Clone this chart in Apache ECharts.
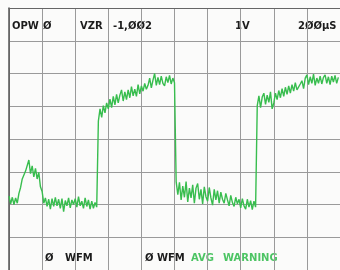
<!DOCTYPE html>
<html>
<head>
<meta charset="utf-8">
<script src="https://cdn.jsdelivr.net/npm/echarts@6/dist/echarts.min.js"></script>
<style>
  html, body { margin: 0; padding: 0; background: #fbfbfa; }
  #box { width: 340px; height: 270px; }
</style>
</head>
<body>
<div id="box"></div>
<script>
// scope trace, one sample every 0.05 div, volts in div (1V/div)
const sampleStep = 0.05;
const traceValues = [
  -1.74, -1.98, -1.78, -2.00, -1.80, -1.96, -1.66, -1.48, -1.22, -1.20,
  -0.98, -1.00, -0.64, -1.06, -0.82, -1.16, -0.90, -1.22, -1.02, -1.46,
  -1.60, -1.96, -1.80, -2.06, -1.84, -2.14, -1.82, -2.06, -1.78, -2.04,
  -1.84, -2.12, -1.82, -2.22, -1.88, -2.04, -1.80, -2.10, -1.86, -2.00,
  -1.82, -2.08, -1.76, -2.04, -1.90, -2.12, -1.80, -2.06, -1.86, -2.14,
  -1.90, -2.12, -1.94, -2.08, 0.55, 0.92, 0.66, 1.02, 0.80, 1.10,
  0.92, 1.22, 0.96, 1.30, 1.04, 1.36, 1.10, 1.34, 1.50, 1.16,
  1.44, 1.20, 1.50, 1.26, 1.60, 1.32, 1.52, 1.30, 1.66, 1.38,
  1.62, 1.46, 1.70, 1.52, 1.64, 1.86, 1.56, 1.80, 2.00, 1.64,
  1.88, 1.66, 1.92, 1.70, 1.62, 1.90, 1.72, 1.94, 1.68, 1.86,
  1.72, -1.30, -1.70, -1.32, -1.86, -1.44, -1.78, -1.30, -1.92, -1.50,
  -1.80, -1.40, -1.96, -1.50, -1.36, -1.84, -1.54, -1.98, -1.46, -1.76,
  -1.90, -1.48, -1.80, -2.02, -1.54, -1.86, -1.58, -1.96, -1.62, -1.84,
  -1.96, -1.66, -1.86, -2.04, -1.72, -1.94, -2.06, -1.78, -1.98, -1.84,
  -2.10, -1.82, -2.04, -2.14, -1.84, -2.08, -1.88, -2.16, -1.90, -2.08,
  1.02, 1.32, 0.96, 1.28, 1.40, 1.06, 1.34, 1.12, 1.44, 0.92,
  1.10, 1.40, 1.20, 1.48, 1.26, 1.54, 1.30, 1.58, 1.36, 1.62,
  1.40, 1.66, 1.46, 1.72, 1.50, 1.44, 1.68, 1.78, 1.54, 1.86,
  1.96, 1.66, 1.90, 1.70, 1.98, 1.64, 1.86, 1.70, 1.92, 1.68,
  1.88, 1.96, 1.70, 1.90, 1.66, 1.92, 1.74, 1.94, 1.70, 1.88
];

// readout words and where they sit on the screen
const topLabels = ['OPW', 'Ø', 'VZR', '-1,ØØ2', '1V', '2ØØμS'];
const topLabelX = [12, 43, 80, 113, 235, 298];
const bottomLabels = ['Ø', 'WFM', 'Ø', 'WFM'];
const bottomLabelX = [45, 65, 145, 157];
const warningLabels = ['AVG', 'WARNING'];
const warningLabelX = [191, 223];

const graph = echarts.init(document.getElementById('box'));

const points = traceValues.map((v, i) => [i * sampleStep, v]);

const font = 'bold 10px "DejaVu Sans", sans-serif';
const texts = [];
topLabels.forEach((t, i) => {
  texts.push({ type: 'text', left: topLabelX[i], top: 21, style: { text: t, fill: '#1c1c1c', font: font } });
});
bottomLabels.forEach((t, i) => {
  texts.push({ type: 'text', left: bottomLabelX[i], top: 253, style: { text: t, fill: '#1c1c1c', font: font } });
});
warningLabels.forEach((t, i) => {
  texts.push({ type: 'text', left: warningLabelX[i], top: 253, style: { text: t, fill: '#4cc463', font: font } });
});

graph.setOption({
  animation: false,
  backgroundColor: '#fbfbfa',
  grid: { left: 9, top: 8, width: 334, height: 268 },
  xAxis: {
    type: 'value', min: 0, max: 10, interval: 1, position: 'top',
    axisLine: { show: true, onZero: false, lineStyle: { color: '#666', width: 1.2 } },
    axisTick: { show: false },
    axisLabel: { show: false },
    splitLine: { show: true, lineStyle: { color: '#9a9a9a', width: 1 } }
  },
  yAxis: {
    type: 'value', min: -4, max: 4, interval: 1,
    axisLine: { show: true, onZero: false, lineStyle: { color: '#555', width: 1.5 } },
    axisTick: { show: false },
    axisLabel: { show: false },
    splitLine: { show: true, lineStyle: { color: '#9a9a9a', width: 1 } }
  },
  series: [
    {
      type: 'line',
      data: points,
      showSymbol: false,
      lineStyle: { color: '#38bd4e', width: 1.4 }
    }
  ],
  graphic: texts
});
</script>
</body>
</html>
